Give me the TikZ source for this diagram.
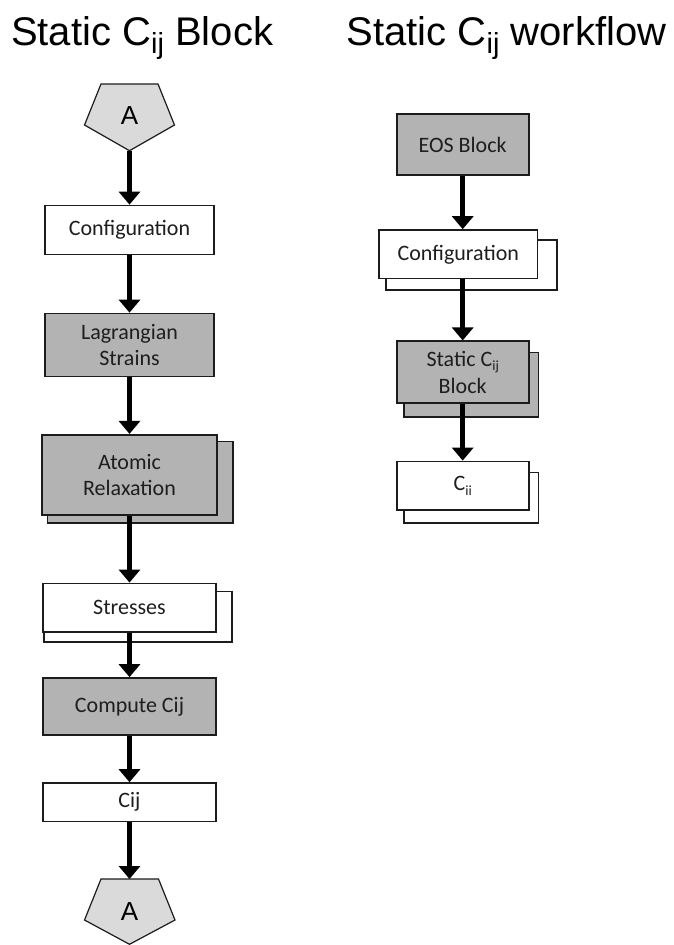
\documentclass[tikz,border=0pt]{standalone}
\usepackage{fontspec}
\setmainfont{Carlito}
\newfontfamily\titlefont{Liberation Sans}
\usetikzlibrary{arrows.meta}
\pgfdeclarelayer{back}
\pgfsetlayers{back,main}
\definecolor{boxgray}{RGB}{179,179,179}
\definecolor{pentgray}{RGB}{218,218,218}
\definecolor{edgecol}{RGB}{28,28,28}
\definecolor{inkcol}{RGB}{30,30,30}
% lowered subscript: text, drop, size
\newcommand\lowsub[3]{\raisebox{-#2}{\fontsize{#3}{#3}\selectfont #1}}

\begin{document}
\begin{tikzpicture}[x=1pt,y=-1pt,
  box/.style={draw=edgecol, line width=1.7pt, fill=white, inner sep=0pt,
    align=center, text=inkcol, font=\fontsize{22}{26.7}\selectfont},
  graybox/.style={box, fill=boxgray},
  backbox/.style={draw=edgecol, line width=1.7pt},
  flow/.style={line width=4.6pt, -{Triangle[width=21pt,length=13pt]}},
  pent/.style={draw=edgecol, line width=1.2pt, fill=pentgray, line join=miter},
  pentlabel/.style={inner sep=0pt, font=\titlefont\fontsize{26}{26}\selectfont},
  title/.style={anchor=base west, inner sep=0pt, font=\titlefont\fontsize{40}{40}\selectfont}
]
\useasboundingbox (0,0) rectangle (673,945);

% titles
\node[title] (titleblock) at (11,45) {Static C\lowsub{ij}{8pt}{29} Block};
\node[title] (titleflow) at (346.5,45) {Static C\lowsub{ij}{8pt}{29} workflow};

% ---- left column: the block ----
\draw[pent] (101,84) -- (158,84) -- (174.5,125) -- (129.5,150.7) -- (84.5,125) -- cycle;
\node[pentlabel] (Atop) at (129.5,116) {A};
\coordinate (Atoptip) at (129.5,150.7);

\node[box, minimum width=169pt, minimum height=49pt] (conf) at (129.5,230) {Configuration};
\node[graybox, minimum width=169pt, minimum height=63pt] (lag) at (129.5,345) {Lagrangian\\Strains};
\node[graybox, minimum width=174.5pt, minimum height=80.5pt] (atom) at (129.5,475) {Atomic\\Relaxation};
\node[box, minimum width=173pt, minimum height=48.5pt] (stress) at (129.5,607.7) {Stresses};
\node[graybox, minimum width=173pt, minimum height=57pt] (comp) at (129.5,706.5) {Compute Cij};
\node[box, minimum width=173pt, minimum height=38.5pt] (cij) at (129.5,802.3) {Cij};

\draw[pent] (101,879) -- (158.5,879) -- (175,920) -- (129.5,944.3) -- (84.5,920) -- cycle;
\node[pentlabel] (Abot) at (129.5,912) {A};
\coordinate (Abottop) at (129.5,879);

\begin{pgfonlayer}{back}
  \draw[backbox, fill=boxgray] ([xshift=6pt,yshift=-7pt]atom.south west) rectangle ([xshift=15.3pt,yshift=-7.7pt]atom.north east);
  \draw[backbox, fill=white] ([xshift=1.7pt,yshift=-9pt]stress.south west) rectangle ([xshift=15.3pt,yshift=-9pt]stress.north east);
\end{pgfonlayer}

\draw[flow] (Atoptip) -- (conf.north);
\draw[flow] (conf.south) -- (lag.north);
\draw[flow] (lag.south) -- (atom.north);
\draw[flow] (atom.south) -- (stress.north);
\draw[flow] (stress.south) -- (comp.north);
\draw[flow] (comp.south) -- (cij.north);
\draw[flow] (cij.south) -- (Abottop);

% ---- right column: the workflow ----
\node[graybox, minimum width=132pt, minimum height=61pt] (eos) at (462.7,144.7) {EOS Block};
\node[box, minimum width=158.5pt, minimum height=48.5pt] (conf2) at (458.3,254.3) {Configuration};
\node[graybox, minimum width=132pt, minimum height=62pt] (static) at (462.7,372.3) {Static C\lowsub{ij}{4.5pt}{14}\\Block};
\node[box, minimum width=132pt, minimum height=48.5pt] (cii) at (462.7,485.7) {C\lowsub{ii}{5pt}{14}};

\begin{pgfonlayer}{back}
  \draw[backbox, fill=white] ([xshift=7.7pt,yshift=-10.7pt]conf2.south west) rectangle ([xshift=18.4pt,yshift=-10.7pt]conf2.north east);
  \draw[backbox, fill=boxgray] ([xshift=8.3pt,yshift=-12.5pt]static.south west) rectangle ([xshift=9pt,yshift=-12pt]static.north east);
  \draw[backbox, fill=white] ([xshift=8.3pt,yshift=-12.5pt]cii.south west) rectangle ([xshift=9pt,yshift=-12pt]cii.north east);
\end{pgfonlayer}

\draw[flow] (eos.south) -- (eos.south |- conf2.north);
\draw[flow] (eos.south |- conf2.south) -- (static.north);
\draw[flow] (static.south) -- (cii.north);
\end{tikzpicture}
\end{document}
